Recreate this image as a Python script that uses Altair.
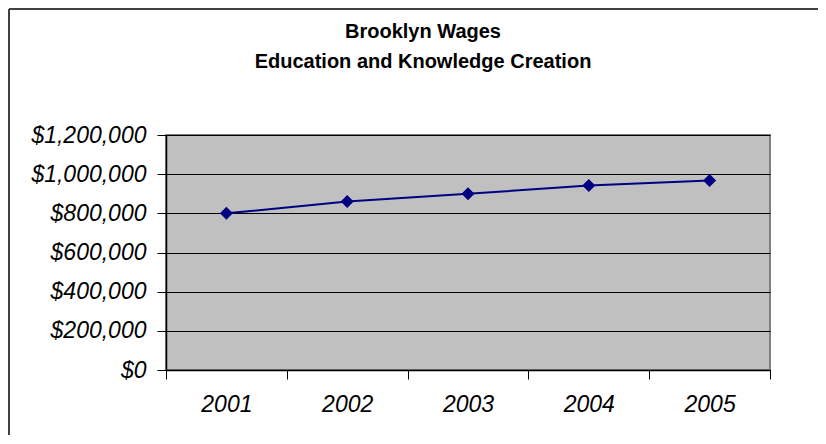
import altair as alt
import pandas as pd

years = ["2001", "2002", "2003", "2004", "2005"]
wages = [800000, 860000, 900000, 942000, 968000]
y_ticks = [0, 200000, 400000, 600000, 800000, 1000000, 1200000]
title_line1 = "Brooklyn Wages"
title_line2 = "Education and Knowledge Creation"

df = pd.DataFrame({"year": years, "wage": wages})
FONT = "Liberation Sans"

base = alt.Chart(df)

x_enc = alt.X("year:N", title=None, sort=years,
              scale=alt.Scale(paddingInner=0, paddingOuter=0),
              axis=alt.Axis(labelAngle=0, labelFontSize=23, labelFontStyle="italic",
                            labelFont=FONT, labelColor="black", tickBand="extent",
                            tickSize=9, tickColor="black", domainColor="black",
                            domainWidth=1.5, labelPadding=14, grid=False))
y_enc = alt.Y("wage:Q", title=None,
              scale=alt.Scale(domain=[0, 1200000], nice=False),
              axis=alt.Axis(values=y_ticks, tickCount=7, format="$,.0f", labelFontSize=23,
                            labelFontStyle="italic", labelFont=FONT, labelColor="black",
                            labelOverlap=False, labelBaseline="middle",
                            tickSize=9, tickColor="black", domainColor="black",
                            domainWidth=1.5, labelPadding=11, grid=True,
                            gridColor="black", gridWidth=1, gridOpacity=1))

line = base.mark_line(color="#000080", strokeWidth=2).encode(x=x_enc, y=y_enc)
pts = base.mark_point(shape="diamond", filled=True, size=170, color="#000080",
                      opacity=1).encode(x=x_enc, y=y_enc)

one = pd.DataFrame({"a": [0]})
frame_left = alt.Chart(one).mark_rule(color="#404040", strokeWidth=2).encode(
    x=alt.value(-157), x2=alt.value(-157), y=alt.value(-126), y2=alt.value(300))
frame_top = alt.Chart(one).mark_rule(color="#404040", strokeWidth=2).encode(
    x=alt.value(-157), x2=alt.value(660), y=alt.value(-126), y2=alt.value(-126))

t1 = alt.Chart(pd.DataFrame({"t": [title_line1]})).mark_text(
    font=FONT, fontSize=20, fontWeight="bold", color="black", align="center",
    baseline="middle").encode(text="t:N", x=alt.value(257), y=alt.value(-103))
t2 = alt.Chart(pd.DataFrame({"t": [title_line2]})).mark_text(
    font=FONT, fontSize=20, fontWeight="bold", color="black", align="center",
    baseline="middle").encode(text="t:N", x=alt.value(257), y=alt.value(-73))

chart = alt.layer(line, pts, frame_left, frame_top, t1, t2).properties(
    width=604, height=235,
    background="white",
    autosize=alt.AutoSizeParams(type="none"),
    padding={"left": 158, "top": 127, "right": 48, "bottom": 66},
).configure_view(fill="#C0C0C0", stroke="#808080", strokeWidth=2)

chart.save("out.html", embed_options={"renderer": "svg", "actions": False})
